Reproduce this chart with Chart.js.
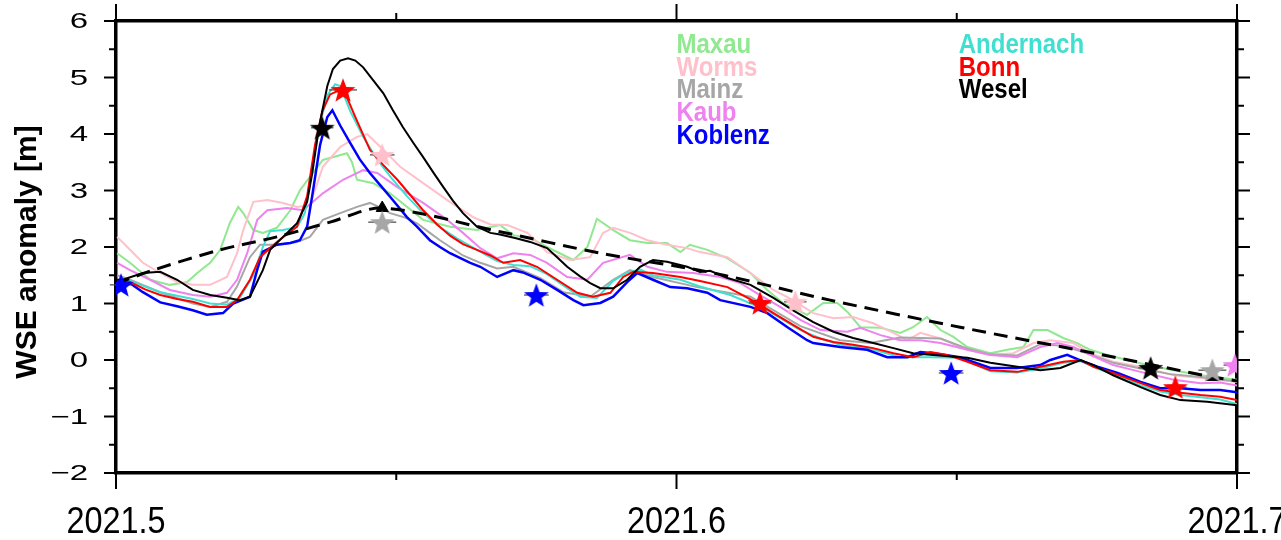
<!DOCTYPE html>
<html>
<head>
<meta charset="utf-8">
<script src="https://cdn.jsdelivr.net/npm/chart.js@4.4.1/dist/chart.umd.min.js"></script>
<style>
  html, body { margin: 0; padding: 0; background: #fff; overflow: hidden; }
  canvas { display: block; }
</style>
</head>
<body>
<canvas id="wse" width="1281" height="540"></canvas>
<script>
// Water surface elevation anomalies along the Rhine, [decimal year, metres]
const maxau = [[2021.5002,1.89],[2021.5025,1.72],[2021.5061,1.42],[2021.5096,1.33],[2021.5127,1.38],[2021.5145,1.54],[2021.5168,1.72],[2021.5186,1.95],[2021.5203,2.42],[2021.5218,2.71],[2021.5227,2.60],[2021.5245,2.30],[2021.5262,2.25],[2021.5287,2.34],[2021.5311,2.65],[2021.5328,3.00],[2021.5346,3.24],[2021.5369,3.54],[2021.5412,3.66],[2021.5421,3.50],[2021.5430,3.19],[2021.5459,3.13],[2021.5489,2.95],[2021.5548,2.48],[2021.5596,2.36],[2021.5644,2.30],[2021.5685,2.39],[2021.5709,2.21],[2021.5739,2.16],[2021.5769,2.00],[2021.5816,1.77],[2021.5841,2.00],[2021.5858,2.50],[2021.5887,2.30],[2021.5917,2.12],[2021.5948,2.07],[2021.5983,2.07],[2021.6007,1.91],[2021.6024,2.04],[2021.6055,1.95],[2021.6091,1.80],[2021.6132,1.54],[2021.6162,1.24],[2021.6190,1.01],[2021.6233,0.80],[2021.6262,1.01],[2021.6287,1.01],[2021.6305,0.85],[2021.6328,0.58],[2021.6364,0.57],[2021.6399,0.48],[2021.6422,0.58],[2021.6447,0.76],[2021.6471,0.53],[2021.6494,0.41],[2021.6519,0.23],[2021.6560,0.12],[2021.6590,0.18],[2021.6619,0.23],[2021.6637,0.53],[2021.6662,0.53],[2021.6690,0.39],[2021.6715,0.30],[2021.6738,0.18],[2021.6769,0.09],[2021.6804,0.00],[2021.6840,-0.09],[2021.6887,-0.18],[2021.6935,-0.27],[2021.7000,-0.35]];

const worms = [[2021.5002,2.18],[2021.5025,1.95],[2021.5048,1.72],[2021.5079,1.54],[2021.5109,1.38],[2021.5137,1.33],[2021.5168,1.33],[2021.5198,1.47],[2021.5216,1.89],[2021.5227,2.30],[2021.5245,2.80],[2021.5270,2.83],[2021.5298,2.78],[2021.5323,2.71],[2021.5346,2.74],[2021.5369,3.42],[2021.5400,3.77],[2021.5430,3.95],[2021.5448,4.00],[2021.5477,3.72],[2021.5507,3.42],[2021.5548,3.13],[2021.5591,2.83],[2021.5637,2.53],[2021.5668,2.40],[2021.5698,2.39],[2021.5734,2.25],[2021.5769,1.91],[2021.5810,1.77],[2021.5846,1.82],[2021.5869,2.25],[2021.5887,2.34],[2021.5917,2.25],[2021.5948,2.12],[2021.5983,2.04],[2021.6019,1.98],[2021.6042,1.91],[2021.6091,1.82],[2021.6132,1.54],[2021.6173,1.24],[2021.6208,1.06],[2021.6244,0.83],[2021.6280,0.74],[2021.6315,0.76],[2021.6351,0.65],[2021.6387,0.48],[2021.6412,0.35],[2021.6435,0.48],[2021.6471,0.38],[2021.6519,0.18],[2021.6560,0.09],[2021.6601,0.12],[2021.6637,0.30],[2021.6667,0.35],[2021.6708,0.30],[2021.6738,0.12],[2021.6779,-0.03],[2021.6828,-0.12],[2021.6887,-0.27],[2021.6935,-0.32],[2021.7000,-0.39]];

const mainz = [[2021.5002,1.50],[2021.5025,1.42],[2021.5079,1.20],[2021.5137,1.00],[2021.5168,0.94],[2021.5198,1.03],[2021.5216,1.30],[2021.5239,1.82],[2021.5257,2.04],[2021.5287,2.04],[2021.5323,2.09],[2021.5346,2.18],[2021.5369,2.48],[2021.5400,2.60],[2021.5430,2.71],[2021.5453,2.78],[2021.5471,2.70],[2021.5489,2.60],[2021.5516,2.52],[2021.5537,2.42],[2021.5560,2.25],[2021.5578,2.12],[2021.5619,1.85],[2021.5650,1.72],[2021.5680,1.62],[2021.5709,1.65],[2021.5757,1.45],[2021.5798,1.20],[2021.5846,1.12],[2021.5887,1.42],[2021.5917,1.59],[2021.5958,1.47],[2021.6037,1.29],[2021.6132,1.12],[2021.6221,0.60],[2021.6292,0.35],[2021.6346,0.30],[2021.6399,0.40],[2021.6471,0.38],[2021.6519,0.20],[2021.6560,0.10],[2021.6608,0.08],[2021.6649,0.28],[2021.6690,0.25],[2021.6738,0.10],[2021.6779,-0.05],[2021.6828,-0.15],[2021.6881,-0.25],[2021.6935,-0.30],[2021.7000,-0.38]];

const kaub = [[2021.5002,1.72],[2021.5025,1.59],[2021.5061,1.42],[2021.5096,1.24],[2021.5137,1.15],[2021.5168,1.12],[2021.5198,1.19],[2021.5216,1.42],[2021.5234,1.89],[2021.5252,2.48],[2021.5270,2.65],[2021.5305,2.69],[2021.5334,2.65],[2021.5369,2.95],[2021.5405,3.19],[2021.5441,3.36],[2021.5466,3.31],[2021.5502,3.06],[2021.5548,2.78],[2021.5591,2.48],[2021.5619,2.25],[2021.5650,1.98],[2021.5680,1.80],[2021.5709,1.89],[2021.5739,1.86],[2021.5769,1.72],[2021.5805,1.47],[2021.5841,1.42],[2021.5869,1.72],[2021.5917,1.86],[2021.5948,1.65],[2021.5983,1.56],[2021.6030,1.54],[2021.6078,1.47],[2021.6114,1.36],[2021.6149,1.15],[2021.6185,0.94],[2021.6221,0.71],[2021.6257,0.53],[2021.6305,0.50],[2021.6328,0.57],[2021.6364,0.44],[2021.6399,0.35],[2021.6435,0.35],[2021.6471,0.30],[2021.6519,0.18],[2021.6560,0.09],[2021.6608,0.05],[2021.6649,0.23],[2021.6680,0.30],[2021.6708,0.23],[2021.6738,0.09],[2021.6779,-0.09],[2021.6828,-0.21],[2021.6887,-0.35],[2021.6935,-0.41],[2021.6970,-0.40],[2021.7000,-0.45]];

const koblenz = [[2021.5002,1.33],[2021.5016,1.38],[2021.5025,1.36],[2021.5048,1.20],[2021.5079,1.02],[2021.5109,0.95],[2021.5137,0.88],[2021.5162,0.80],[2021.5191,0.83],[2021.5209,1.00],[2021.5239,1.12],[2021.5252,1.60],[2021.5262,1.92],[2021.5287,2.04],[2021.5311,2.07],[2021.5328,2.12],[2021.5341,2.36],[2021.5350,2.90],[2021.5364,3.80],[2021.5377,4.30],[2021.5386,4.42],[2021.5400,4.15],[2021.5418,3.84],[2021.5435,3.55],[2021.5453,3.31],[2021.5471,3.10],[2021.5489,2.89],[2021.5519,2.53],[2021.5537,2.36],[2021.5560,2.12],[2021.5578,2.00],[2021.5596,1.89],[2021.5632,1.72],[2021.5650,1.65],[2021.5680,1.47],[2021.5709,1.59],[2021.5726,1.55],[2021.5757,1.42],[2021.5787,1.24],[2021.5816,1.06],[2021.5834,0.97],[2021.5864,1.01],[2021.5887,1.12],[2021.5912,1.38],[2021.5930,1.54],[2021.5958,1.42],[2021.5989,1.29],[2021.6019,1.27],[2021.6055,1.19],[2021.6078,1.06],[2021.6132,0.94],[2021.6162,0.83],[2021.6198,0.58],[2021.6233,0.35],[2021.6244,0.30],[2021.6292,0.23],[2021.6340,0.18],[2021.6376,0.05],[2021.6412,0.05],[2021.6435,0.14],[2021.6458,0.12],[2021.6506,0.05],[2021.6519,0.00],[2021.6560,-0.14],[2021.6608,-0.14],[2021.6649,-0.09],[2021.6667,0.00],[2021.6697,0.09],[2021.6726,-0.03],[2021.6751,-0.12],[2021.6787,-0.23],[2021.6828,-0.39],[2021.6863,-0.50],[2021.6899,-0.50],[2021.6935,-0.53],[2021.6970,-0.53],[2021.7000,-0.57]];

const andernach = [[2021.5002,1.38],[2021.5025,1.40],[2021.5079,1.20],[2021.5137,1.08],[2021.5168,1.00],[2021.5198,0.98],[2021.5221,1.10],[2021.5245,1.50],[2021.5262,2.00],[2021.5275,2.28],[2021.5298,2.30],[2021.5323,2.35],[2021.5337,2.60],[2021.5350,3.40],[2021.5364,4.20],[2021.5378,4.70],[2021.5391,4.88],[2021.5400,4.85],[2021.5418,4.40],[2021.5441,3.95],[2021.5466,3.55],[2021.5489,3.25],[2021.5519,2.90],[2021.5548,2.60],[2021.5578,2.35],[2021.5609,2.15],[2021.5644,1.95],[2021.5680,1.75],[2021.5709,1.68],[2021.5739,1.66],[2021.5769,1.52],[2021.5798,1.32],[2021.5828,1.12],[2021.5858,1.10],[2021.5887,1.40],[2021.5912,1.55],[2021.5935,1.60],[2021.5958,1.50],[2021.6007,1.42],[2021.6042,1.30],[2021.6096,1.15],[2021.6162,0.88],[2021.6221,0.53],[2021.6257,0.38],[2021.6292,0.27],[2021.6346,0.20],[2021.6399,0.05],[2021.6453,0.05],[2021.6506,0.04],[2021.6560,-0.20],[2021.6608,-0.22],[2021.6649,-0.15],[2021.6690,-0.05],[2021.6721,-0.02],[2021.6751,-0.15],[2021.6792,-0.30],[2021.6828,-0.45],[2021.6863,-0.56],[2021.6899,-0.62],[2021.6935,-0.66],[2021.6970,-0.70],[2021.7000,-0.78]];

const bonn = [[2021.5002,1.40],[2021.5025,1.38],[2021.5052,1.25],[2021.5079,1.15],[2021.5109,1.08],[2021.5137,1.03],[2021.5168,0.94],[2021.5198,0.94],[2021.5216,1.06],[2021.5239,1.42],[2021.5257,1.82],[2021.5287,2.09],[2021.5323,2.36],[2021.5341,2.90],[2021.5355,3.80],[2021.5368,4.40],[2021.5382,4.70],[2021.5400,4.78],[2021.5409,4.72],[2021.5427,4.30],[2021.5453,3.72],[2021.5477,3.45],[2021.5502,3.19],[2021.5525,2.92],[2021.5548,2.65],[2021.5573,2.40],[2021.5596,2.20],[2021.5619,2.05],[2021.5644,1.95],[2021.5668,1.85],[2021.5691,1.72],[2021.5721,1.77],[2021.5751,1.65],[2021.5787,1.42],[2021.5823,1.19],[2021.5851,1.12],[2021.5882,1.19],[2021.5905,1.47],[2021.5923,1.56],[2021.5958,1.54],[2021.6007,1.47],[2021.6042,1.40],[2021.6091,1.29],[2021.6144,1.01],[2021.6173,0.83],[2021.6208,0.62],[2021.6244,0.41],[2021.6280,0.32],[2021.6315,0.27],[2021.6351,0.21],[2021.6387,0.12],[2021.6422,0.05],[2021.6453,0.14],[2021.6483,0.09],[2021.6519,-0.03],[2021.6560,-0.18],[2021.6608,-0.21],[2021.6649,-0.12],[2021.6690,-0.03],[2021.6721,0.00],[2021.6744,-0.12],[2021.6779,-0.23],[2021.6828,-0.41],[2021.6863,-0.53],[2021.6899,-0.58],[2021.6935,-0.62],[2021.6970,-0.65],[2021.7000,-0.71]];

const wesel = [[2021.5002,1.42],[2021.5012,1.42],[2021.5048,1.54],[2021.5079,1.56],[2021.5109,1.42],[2021.5137,1.24],[2021.5168,1.15],[2021.5198,1.10],[2021.5221,1.06],[2021.5239,1.12],[2021.5262,1.59],[2021.5275,1.95],[2021.5298,2.18],[2021.5323,2.42],[2021.5341,2.80],[2021.5350,3.30],[2021.5362,4.11],[2021.5377,4.85],[2021.5387,5.15],[2021.5400,5.30],[2021.5414,5.34],[2021.5427,5.30],[2021.5441,5.18],[2021.5459,4.95],[2021.5477,4.72],[2021.5494,4.42],[2021.5512,4.12],[2021.5530,3.85],[2021.5548,3.59],[2021.5566,3.32],[2021.5584,3.06],[2021.5601,2.82],[2021.5619,2.60],[2021.5644,2.36],[2021.5668,2.25],[2021.5685,2.22],[2021.5712,2.16],[2021.5739,2.09],[2021.5769,1.98],[2021.5787,1.82],[2021.5805,1.65],[2021.5828,1.48],[2021.5846,1.36],[2021.5864,1.27],[2021.5887,1.27],[2021.5912,1.42],[2021.5935,1.65],[2021.5958,1.77],[2021.5983,1.74],[2021.6019,1.65],[2021.6042,1.56],[2021.6060,1.58],[2021.6091,1.45],[2021.6132,1.33],[2021.6173,1.10],[2021.6208,0.88],[2021.6244,0.67],[2021.6280,0.50],[2021.6315,0.39],[2021.6351,0.30],[2021.6387,0.21],[2021.6422,0.12],[2021.6458,0.09],[2021.6506,0.05],[2021.6519,0.04],[2021.6560,-0.05],[2021.6608,-0.12],[2021.6649,-0.18],[2021.6685,-0.14],[2021.6721,0.00],[2021.6744,-0.09],[2021.6779,-0.27],[2021.6828,-0.48],[2021.6863,-0.62],[2021.6899,-0.71],[2021.6947,-0.74],[2021.7000,-0.80]];

// Reference curve (dashed)
const reference = [[2021.5000,1.35],[2021.5066,1.59],[2021.5186,1.95],[2021.5287,2.18],[2021.5382,2.44],[2021.5475,2.69],[2021.5685,2.27],[2021.5864,1.89],[2021.6066,1.54],[2021.6274,1.06],[2021.6506,0.58],[2021.6756,0.10],[2021.6956,-0.30],[2021.7000,-0.37]];

// Altimetry crossings (stars) with horizontal uncertainty, in years
const starT = [2021.5009, 2021.5368, 2021.5405, 2021.5475, 2021.5475, 2021.5750, 2021.6149, 2021.6212, 2021.6490, 2021.6846, 2021.6890, 2021.6956, 2021.6996];
const starV = [1.33, 4.11, 4.78, 3.63, 2.44, 1.15, 1.01, 1.03, -0.23, -0.14, -0.48, -0.18, -0.09];
const starStation = ['Koblenz','Wesel','Bonn','Worms','Mainz','Koblenz','Bonn','Worms','Koblenz','Wesel','Bonn','Mainz','Kaub'];
const starErr = [0.0020, 0.0020, 0.0025, 0.0022, 0.0025, 0.0022, 0.0020, 0.0020, 0.0022, 0.0022, 0.0020, 0.0025, 0.0020];

// Reference nodes (triangles)
const triT = [2021.5475, 2021.6956];
const triV = [2.69, -0.30];

// Axis tick labels
const yTickLabels = ['\u22122', '\u22121', '0', '1', '2', '3', '4', '5', '6'];
const xTickLabels = ['2021.5', '2021.6', '2021.7'];

const stationColors = {
  Maxau: '#90e890', Worms: '#ffc0cb', Mainz: '#a6a6a6', Kaub: '#ee82ee', Koblenz: '#0000ff',
  Andernach: '#40e0d0', Bonn: '#ff0000', Wesel: '#000000'
};
const legendLeft = ['Maxau', 'Worms', 'Mainz', 'Kaub', 'Koblenz'];
const legendRight = ['Andernach', 'Bonn', 'Wesel'];

const toXY = arr => arr.map(([t, v]) => ({ x: t, y: v }));

function starGlyph(color, r) {
  const size = Math.ceil(r * 2 + 2);
  const c = document.createElement('canvas');
  c.width = size; c.height = size;
  const g = c.getContext('2d');
  g.translate(size / 2, size / 2 + r * 0.1);
  g.beginPath();
  for (let i = 0; i < 10; i++) {
    const rad = i % 2 ? r * 0.42 : r;
    const ang = -Math.PI / 2 + i * Math.PI / 5;
    g.lineTo(rad * Math.cos(ang), rad * Math.sin(ang));
  }
  g.closePath();
  g.fillStyle = color;
  g.fill();
  return c;
}
const starImages = starStation.map(s => starGlyph(stationColors[s], 13));

function gauge(name, data, order, width) {
  return {
    label: name, data: toXY(data), borderColor: stationColors[name],
    borderWidth: width, pointRadius: 0, tension: 0, fill: false, order, clip: 0
  };
}

const FONT = '"Liberation Sans", Arial, Helvetica, sans-serif';

const axisDecor = {
  id: 'axisDecor',
  beforeDatasetDraw(chart, args) {
    if (chart.data.datasets[args.index].label !== 'stars') return;
    const { ctx, scales: { x, y } } = chart;
    ctx.save();
    ctx.strokeStyle = '#444';
    ctx.lineWidth = 1.2;
    starT.forEach((t, i) => {
      const py = y.getPixelForValue(starV[i]);
      ctx.beginPath();
      ctx.moveTo(x.getPixelForValue(t - starErr[i]), py);
      ctx.lineTo(Math.min(x.getPixelForValue(t + starErr[i]), chart.chartArea.right), py);
      ctx.stroke();
    });
    ctx.restore();
  },
  afterDraw(chart) {
    const { ctx, chartArea: a, scales: { x, y } } = chart;
    const seg = (x1, y1, x2, y2) => { ctx.beginPath(); ctx.moveTo(x1, y1); ctx.lineTo(x2, y2); ctx.stroke(); };
    const isStep = (v, k) => Math.abs(v * k - Math.round(v * k)) < 1e-6;
    ctx.save();
    ctx.strokeStyle = '#000';
    ctx.fillStyle = '#000';
    ctx.lineWidth = 2;

    // y ticks on both sides, labels on the left
    let yi = 0;
    y.ticks.forEach(tk => {
      const py = y.getPixelForValue(tk.value);
      const major = isStep(tk.value, 1);
      seg(a.left - (major ? 12 : 7), py, a.left, py);
      seg(a.right, py, a.right + (major ? 13 : 7), py);
      if (major) {
        ctx.save();
        ctx.translate(a.left - 28, py + 1);
        ctx.scale(1.5, 1);
        ctx.font = '22px ' + FONT;
        ctx.textAlign = 'right';
        ctx.textBaseline = 'middle';
        ctx.fillText(yTickLabels[yi++], 0, 0);
        ctx.restore();
      }
    });

    // x ticks top and bottom, labels at the bottom
    let xi = 0;
    x.ticks.forEach(tk => {
      const px = x.getPixelForValue(tk.value);
      const major = isStep(tk.value, 10);
      seg(px, a.bottom, px, a.bottom + (major ? 16 : 7));
      seg(px, a.top, px, a.top - (major ? 17 : 8));
      if (major) {
        ctx.save();
        ctx.translate(px, a.bottom + 60);
        ctx.scale(0.9, 1);
        ctx.font = '36px ' + FONT;
        ctx.textAlign = 'center';
        ctx.textBaseline = 'alphabetic';
        ctx.fillText(xTickLabels[xi++], 0, 0);
        ctx.restore();
      }
    });

    // y axis title
    ctx.save();
    ctx.translate(28, (a.top + a.bottom) / 2 + 5);
    ctx.rotate(-Math.PI / 2);
    ctx.font = 'bold 30px ' + FONT;
    ctx.textAlign = 'center';
    ctx.textBaseline = 'middle';
    ctx.fillText('WSE anomaly [m]', 0, 0);
    ctx.restore();

    // station key in two columns
    const drawColumn = (names, left) => {
      names.forEach((n, i) => {
        ctx.save();
        ctx.translate(left, 53 + i * 22.7);
        ctx.scale(1, 1.15);
        ctx.font = 'bold 24px ' + FONT;
        ctx.textAlign = 'left';
        ctx.textBaseline = 'alphabetic';
        ctx.fillStyle = stationColors[n];
        ctx.fillText(n, 0, 0);
        ctx.restore();
      });
    };
    drawColumn(legendLeft, x.getPixelForValue(2021.6));
    drawColumn(legendRight, x.getPixelForValue(2021.65) + 2);
    ctx.restore();
  }
};

const frameAxis = (pos, axis, min, max, step) => ({
  type: 'linear', axis, position: pos, min, max,
  ticks: { display: false, stepSize: step },
  grid: { display: false, drawTicks: false },
  border: { display: true, width: 3.5, color: '#000' },
  afterFit: s => { if (axis === 'x') s.height = 0; else s.width = 0; }
});

new Chart(document.getElementById('wse'), {
  type: 'line',
  data: {
    datasets: [
      {
        label: 'stars', data: starT.map((t, i) => ({ x: t, y: starV[i] })),
        showLine: false, pointStyle: starImages, pointRadius: 13, order: 0, clip: 0
      },
      {
        label: 'nodes', data: triT.map((t, i) => ({ x: t, y: triV[i] })),
        showLine: false, pointStyle: 'triangle', pointRadius: 7,
        backgroundColor: '#000', borderColor: '#000', borderWidth: 1, order: 0, clip: 0
      },
      {
        label: 'reference', data: toXY(reference), borderColor: '#000', borderWidth: 3,
        borderDash: [14, 8], pointRadius: 0, tension: 0.3, order: 1, clip: 0
      },
      gauge('Wesel', wesel, 2, 2),
      gauge('Bonn', bonn, 3, 2),
      gauge('Koblenz', koblenz, 4, 2.5),
      gauge('Andernach', andernach, 5, 2),
      gauge('Kaub', kaub, 6, 2),
      gauge('Mainz', mainz, 7, 2),
      gauge('Worms', worms, 8, 2),
      gauge('Maxau', maxau, 9, 2)
    ]
  },
  options: {
    responsive: false,
    animation: false,
    devicePixelRatio: 1,
    layout: { padding: { left: 116, right: 44, top: 21, bottom: 67 } },
    plugins: { legend: { display: false }, tooltip: { enabled: false } },
    scales: {
      x: frameAxis('bottom', 'x', 2021.5, 2021.7, 0.05),
      xTop: frameAxis('top', 'x', 2021.5, 2021.7, 0.05),
      y: frameAxis('left', 'y', -2, 6, 0.5),
      yRight: frameAxis('right', 'y', -2, 6, 0.5)
    }
  },
  plugins: [axisDecor]
});
</script>
</body>
</html>
